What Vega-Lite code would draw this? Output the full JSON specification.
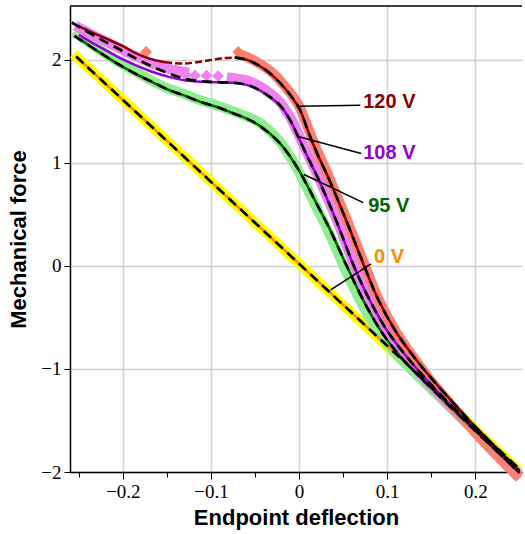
{
  "$schema": "https://vega.github.io/schema/vega-lite/v6.json",
  "width": 525,
  "height": 534,
  "autosize": {"type": "fit", "contains": "padding"},
  "padding": {"left": 7, "top": 5, "right": 0, "bottom": 6},
  "background": "white",
  "config": {"view": {"stroke": null}},
  "datasets": {
    "curves": [
      {"k": "e0", "x": -0.256, "F": 2.055}, {"k": "e0", "x": 0, "F": 0.02}, {"k": "e0", "x": 0.25, "F": -1.99},
      {"k": "e95", "x": -0.256, "F": 2.27}, {"k": "e95", "x": -0.23, "F": 2.12}, {"k": "e95", "x": -0.204, "F": 1.97}, {"k": "e95", "x": -0.185, "F": 1.88}, {"k": "e95", "x": -0.166, "F": 1.79}, {"k": "e95", "x": -0.149, "F": 1.72}, {"k": "e95", "x": -0.13, "F": 1.665}, {"k": "e95", "x": -0.112, "F": 1.605}, {"k": "e95", "x": -0.093, "F": 1.555}, {"k": "e95", "x": -0.075, "F": 1.5}, {"k": "e95", "x": -0.06, "F": 1.45}, {"k": "e95", "x": -0.045, "F": 1.39}, {"k": "e95", "x": -0.0224, "F": 1.21}, {"k": "e95", "x": -0.004, "F": 0.97}, {"k": "e95", "x": 0.008, "F": 0.77}, {"k": "e95", "x": 0.02, "F": 0.56}, {"k": "e95", "x": 0.034, "F": 0.32}, {"k": "e95", "x": 0.052, "F": -0.03}, {"k": "e95", "x": 0.075, "F": -0.43}, {"k": "e95", "x": 0.095, "F": -0.7}, {"k": "e95", "x": 0.115, "F": -0.9}, {"k": "e95", "x": 0.135, "F": -1.07}, {"k": "e95", "x": 0.16, "F": -1.28}, {"k": "e95", "x": 0.2, "F": -1.61}, {"k": "e95", "x": 0.25, "F": -2.02},
      {"k": "e108a", "x": -0.254, "F": 2.33}, {"k": "e108a", "x": -0.23, "F": 2.22}, {"k": "e108a", "x": -0.204, "F": 2.11}, {"k": "e108a", "x": -0.185, "F": 2.03}, {"k": "e108a", "x": -0.166, "F": 1.96}, {"k": "e108a", "x": -0.148, "F": 1.91}, {"k": "e108a", "x": -0.125, "F": 1.87},
      {"k": "e108b", "x": -0.082, "F": 1.83}, {"k": "e108b", "x": -0.07, "F": 1.815}, {"k": "e108b", "x": -0.06, "F": 1.8}, {"k": "e108b", "x": -0.05, "F": 1.765}, {"k": "e108b", "x": -0.037, "F": 1.7}, {"k": "e108b", "x": -0.022, "F": 1.59}, {"k": "e108b", "x": -0.01, "F": 1.44}, {"k": "e108b", "x": -0.002, "F": 1.3}, {"k": "e108b", "x": 0.01, "F": 1.08}, {"k": "e108b", "x": 0.022, "F": 0.86}, {"k": "e108b", "x": 0.043, "F": 0.44}, {"k": "e108b", "x": 0.062, "F": 0.02}, {"k": "e108b", "x": 0.08, "F": -0.32}, {"k": "e108b", "x": 0.1, "F": -0.62}, {"k": "e108b", "x": 0.12, "F": -0.86}, {"k": "e108b", "x": 0.14, "F": -1.07}, {"k": "e108b", "x": 0.165, "F": -1.3}, {"k": "e108b", "x": 0.2, "F": -1.61}, {"k": "e108b", "x": 0.25, "F": -2.03},
      {"k": "e120", "x": -0.072, "F": 2.06}, {"k": "e120", "x": -0.06, "F": 2.03}, {"k": "e120", "x": -0.045, "F": 1.96}, {"k": "e120", "x": -0.03, "F": 1.87}, {"k": "e120", "x": -0.015, "F": 1.73}, {"k": "e120", "x": 0, "F": 1.55}, {"k": "e120", "x": 0.01, "F": 1.34}, {"k": "e120", "x": 0.02, "F": 1.13}, {"k": "e120", "x": 0.034, "F": 0.86}, {"k": "e120", "x": 0.054, "F": 0.45}, {"k": "e120", "x": 0.072, "F": 0.06}, {"k": "e120", "x": 0.09, "F": -0.32}, {"k": "e120", "x": 0.11, "F": -0.64}, {"k": "e120", "x": 0.13, "F": -0.89}, {"k": "e120", "x": 0.15, "F": -1.12}, {"k": "e120", "x": 0.175, "F": -1.37}, {"k": "e120", "x": 0.2, "F": -1.62}, {"k": "e120", "x": 0.25, "F": -2.06},

      {"k": "m0", "x": -0.253, "F": 2.03}, {"k": "m0", "x": 0, "F": 0.02}, {"k": "m0", "x": 0.25, "F": -1.97},
      {"k": "m95", "x": -0.249, "F": 2.2}, {"k": "m95", "x": -0.23, "F": 2.09}, {"k": "m95", "x": -0.204, "F": 1.95}, {"k": "m95", "x": -0.185, "F": 1.86}, {"k": "m95", "x": -0.166, "F": 1.78}, {"k": "m95", "x": -0.149, "F": 1.71}, {"k": "m95", "x": -0.13, "F": 1.65}, {"k": "m95", "x": -0.112, "F": 1.59}, {"k": "m95", "x": -0.093, "F": 1.54}, {"k": "m95", "x": -0.075, "F": 1.48}, {"k": "m95", "x": -0.06, "F": 1.43}, {"k": "m95", "x": -0.045, "F": 1.36}, {"k": "m95", "x": -0.0224, "F": 1.195}, {"k": "m95", "x": -0.004, "F": 0.98}, {"k": "m95", "x": 0.008, "F": 0.8}, {"k": "m95", "x": 0.02, "F": 0.6}, {"k": "m95", "x": 0.034, "F": 0.37}, {"k": "m95", "x": 0.054, "F": 0.0}, {"k": "m95", "x": 0.075, "F": -0.37}, {"k": "m95", "x": 0.095, "F": -0.66}, {"k": "m95", "x": 0.115, "F": -0.88}, {"k": "m95", "x": 0.135, "F": -1.06}, {"k": "m95", "x": 0.16, "F": -1.27}, {"k": "m95", "x": 0.2, "F": -1.6}, {"k": "m95", "x": 0.25, "F": -2.0},
      {"k": "m108", "x": -0.25, "F": 2.24}, {"k": "m108", "x": -0.23, "F": 2.14}, {"k": "m108", "x": -0.204, "F": 2.02}, {"k": "m108", "x": -0.185, "F": 1.945}, {"k": "m108", "x": -0.166, "F": 1.88}, {"k": "m108", "x": -0.149, "F": 1.835}, {"k": "m108", "x": -0.13, "F": 1.8}, {"k": "m108", "x": -0.11, "F": 1.785}, {"k": "m108", "x": -0.09, "F": 1.78}, {"k": "m108", "x": -0.075, "F": 1.775}, {"k": "m108", "x": -0.062, "F": 1.76}, {"k": "m108", "x": -0.05, "F": 1.725}, {"k": "m108", "x": -0.037, "F": 1.66}, {"k": "m108", "x": -0.022, "F": 1.56}, {"k": "m108", "x": -0.01, "F": 1.41}, {"k": "m108", "x": -0.002, "F": 1.27}, {"k": "m108", "x": 0.01, "F": 1.05}, {"k": "m108", "x": 0.022, "F": 0.84}, {"k": "m108", "x": 0.043, "F": 0.42}, {"k": "m108", "x": 0.062, "F": 0.0}, {"k": "m108", "x": 0.08, "F": -0.33}, {"k": "m108", "x": 0.1, "F": -0.63}, {"k": "m108", "x": 0.12, "F": -0.86}, {"k": "m108", "x": 0.14, "F": -1.06}, {"k": "m108", "x": 0.165, "F": -1.29}, {"k": "m108", "x": 0.2, "F": -1.59}, {"k": "m108", "x": 0.25, "F": -2.01},
      {"k": "m120a", "x": -0.252, "F": 2.33}, {"k": "m120a", "x": -0.235, "F": 2.265}, {"k": "m120a", "x": -0.222, "F": 2.215}, {"k": "m120a", "x": -0.2, "F": 2.13}, {"k": "m120a", "x": -0.185, "F": 2.06}, {"k": "m120a", "x": -0.17, "F": 2.01}, {"k": "m120a", "x": -0.152, "F": 1.975},
      {"k": "m120c", "x": -0.073, "F": 2.02}, {"k": "m120c", "x": -0.06, "F": 2.0}, {"k": "m120c", "x": -0.045, "F": 1.94}, {"k": "m120c", "x": -0.03, "F": 1.845}, {"k": "m120c", "x": -0.015, "F": 1.71}, {"k": "m120c", "x": 0, "F": 1.53}, {"k": "m120c", "x": 0.01, "F": 1.31}, {"k": "m120c", "x": 0.02, "F": 1.1}, {"k": "m120c", "x": 0.034, "F": 0.84}, {"k": "m120c", "x": 0.054, "F": 0.43}, {"k": "m120c", "x": 0.072, "F": 0.04}, {"k": "m120c", "x": 0.09, "F": -0.33}, {"k": "m120c", "x": 0.11, "F": -0.64}, {"k": "m120c", "x": 0.13, "F": -0.88}, {"k": "m120c", "x": 0.15, "F": -1.09}, {"k": "m120c", "x": 0.175, "F": -1.33}, {"k": "m120c", "x": 0.2, "F": -1.56}, {"k": "m120c", "x": 0.25, "F": -1.99}
    ],
    "dashedModel": [
      {"k": "m120b", "x": -0.152, "F": 1.975}, {"k": "m120b", "x": -0.13, "F": 1.962}, {"k": "m120b", "x": -0.105, "F": 1.99}, {"k": "m120b", "x": -0.085, "F": 2.015}, {"k": "m120b", "x": -0.073, "F": 2.02}
    ],
    "fits": [
      {"k": "f0", "x": -0.253, "F": 2.03}, {"k": "f0", "x": 0, "F": 0.02}, {"k": "f0", "x": 0.25, "F": -1.97},
      {"k": "f95", "x": -0.255, "F": 2.23}, {"k": "f95", "x": -0.23, "F": 2.09}, {"k": "f95", "x": -0.204, "F": 1.95}, {"k": "f95", "x": -0.185, "F": 1.86}, {"k": "f95", "x": -0.166, "F": 1.78}, {"k": "f95", "x": -0.149, "F": 1.71}, {"k": "f95", "x": -0.13, "F": 1.65}, {"k": "f95", "x": -0.112, "F": 1.59}, {"k": "f95", "x": -0.093, "F": 1.54}, {"k": "f95", "x": -0.075, "F": 1.48}, {"k": "f95", "x": -0.06, "F": 1.43}, {"k": "f95", "x": -0.045, "F": 1.36}, {"k": "f95", "x": -0.0224, "F": 1.195}, {"k": "f95", "x": -0.004, "F": 0.98}, {"k": "f95", "x": 0.008, "F": 0.8}, {"k": "f95", "x": 0.02, "F": 0.6}, {"k": "f95", "x": 0.034, "F": 0.37}, {"k": "f95", "x": 0.054, "F": 0.0}, {"k": "f95", "x": 0.075, "F": -0.37}, {"k": "f95", "x": 0.095, "F": -0.66}, {"k": "f95", "x": 0.115, "F": -0.88}, {"k": "f95", "x": 0.135, "F": -1.06}, {"k": "f95", "x": 0.16, "F": -1.27}, {"k": "f95", "x": 0.2, "F": -1.6}, {"k": "f95", "x": 0.25, "F": -2.0},
      {"k": "f108", "x": -0.258, "F": 2.36}, {"k": "f108", "x": -0.23, "F": 2.22}, {"k": "f108", "x": -0.204, "F": 2.1}, {"k": "f108", "x": -0.185, "F": 2.01}, {"k": "f108", "x": -0.166, "F": 1.93}, {"k": "f108", "x": -0.149, "F": 1.87}, {"k": "f108", "x": -0.13, "F": 1.815}, {"k": "f108", "x": -0.11, "F": 1.79}, {"k": "f108", "x": -0.09, "F": 1.78}, {"k": "f108", "x": -0.075, "F": 1.775}, {"k": "f108", "x": -0.062, "F": 1.76}, {"k": "f108", "x": -0.05, "F": 1.725}, {"k": "f108", "x": -0.037, "F": 1.66}, {"k": "f108", "x": -0.022, "F": 1.56}, {"k": "f108", "x": -0.01, "F": 1.41}, {"k": "f108", "x": -0.002, "F": 1.27}, {"k": "f108", "x": 0.01, "F": 1.05}, {"k": "f108", "x": 0.022, "F": 0.84}, {"k": "f108", "x": 0.043, "F": 0.42}, {"k": "f108", "x": 0.062, "F": 0.0}, {"k": "f108", "x": 0.08, "F": -0.33}, {"k": "f108", "x": 0.1, "F": -0.63}, {"k": "f108", "x": 0.12, "F": -0.86}, {"k": "f108", "x": 0.14, "F": -1.06}, {"k": "f108", "x": 0.165, "F": -1.29}, {"k": "f108", "x": 0.2, "F": -1.59}, {"k": "f108", "x": 0.25, "F": -2.01},
      {"k": "f120", "x": -0.073, "F": 2.02}, {"k": "f120", "x": -0.06, "F": 2.0}, {"k": "f120", "x": -0.045, "F": 1.94}, {"k": "f120", "x": -0.03, "F": 1.845}, {"k": "f120", "x": -0.015, "F": 1.71}, {"k": "f120", "x": 0, "F": 1.53}, {"k": "f120", "x": 0.01, "F": 1.31}, {"k": "f120", "x": 0.02, "F": 1.1}, {"k": "f120", "x": 0.034, "F": 0.84}, {"k": "f120", "x": 0.054, "F": 0.43}, {"k": "f120", "x": 0.072, "F": 0.04}, {"k": "f120", "x": 0.09, "F": -0.33}, {"k": "f120", "x": 0.11, "F": -0.64}, {"k": "f120", "x": 0.13, "F": -0.88}, {"k": "f120", "x": 0.15, "F": -1.09}, {"k": "f120", "x": 0.175, "F": -1.33}, {"k": "f120", "x": 0.2, "F": -1.56}, {"k": "f120", "x": 0.25, "F": -1.99}
    ],
    "outliers": [
      {"k": "e120", "x": -0.1736, "F": 2.074}, {"k": "e120", "x": -0.069, "F": 2.075},
      {"k": "e108a", "x": -0.128, "F": 1.85}, {"k": "e108a", "x": -0.118, "F": 1.845}, {"k": "e108a", "x": -0.105, "F": 1.845}, {"k": "e108a", "x": -0.092, "F": 1.84}
    ],
    "labels": [
      {"t": "120 V", "k": "m120c", "x": 0.0728, "F": 1.587, "x1": 0.0694, "F1": 1.558, "x2": 0.0, "F2": 1.548},
      {"t": "108 V", "k": "m108", "x": 0.0728, "F": 1.09, "x1": 0.0705, "F1": 1.09, "x2": -0.0022, "F2": 1.256},
      {"t": "95 V", "k": "m95", "x": 0.0784, "F": 0.584, "x1": 0.0728, "F1": 0.613, "x2": 0.0056, "F2": 0.886},
      {"t": "0 V", "k": "m0", "x": 0.085, "F": 0.088, "x1": 0.0817, "F1": 0.019, "x2": 0.0358, "F2": -0.234}
    ]
  },
  "layer": [
    {
      "data": {"name": "curves"},
      "transform": [{"filter": "indexof(datum.k, 'e') == 0"}],
      "mark": {"type": "line", "strokeWidth": 10, "strokeCap": "butt", "strokeJoin": "round", "interpolate": "catmull-rom"},
      "encoding": {
        "x": {
          "field": "x", "type": "quantitative",
          "scale": {"domain": [-0.26, 0.253], "nice": false, "zero": false},
          "axis": {
            "orient": "bottom",
            "values": [-0.25, -0.225, -0.2, -0.175, -0.15, -0.125, -0.1, -0.075, -0.05, -0.025, 0, 0.025, 0.05, 0.075, 0.1, 0.125, 0.15, 0.175, 0.2, 0.225, 0.25],
            "format": ".1~f",
            "labelExpr": "abs(datum.value*10 - round(datum.value*10)) < 0.001 ? datum.label : ''",
            "labelOverlap": false, "labelFlush": false,
            "labelFont": "Liberation Serif", "labelFontSize": 19, "labelColor": "black", "labelPadding": 3,
            "tickColor": "black", "tickWidth": 1,
            "tickSize": {"condition": {"test": "abs(datum.value*10 - round(datum.value*10)) < 0.001", "value": 7}, "value": 5},
            "grid": true, "gridColor": "#d0d0d0", "gridWidth": 1.5,
            "gridOpacity": {"condition": {"test": "abs(datum.value*10 - round(datum.value*10)) < 0.001", "value": 1}, "value": 0},
            "domainColor": "black", "domainWidth": 1.5,
            "title": "Endpoint deflection", "titleFont": "Liberation Sans", "titleFontWeight": "bold", "titleFontSize": 22, "titleColor": "black", "titlePadding": 6
          }
        },
        "y": {
          "field": "F", "type": "quantitative",
          "scale": {"domain": [-2, 2.52], "nice": false, "zero": false},
          "axis": {
            "orient": "left",
            "values": [-2, -1.75, -1.5, -1.25, -1, -0.75, -0.5, -0.25, 0, 0.25, 0.5, 0.75, 1, 1.25, 1.5, 1.75, 2, 2.25, 2.5],
            "format": "d",
            "labelExpr": "abs(datum.value - round(datum.value)) < 0.001 ? datum.label : ''",
            "labelOverlap": false, "labelFlush": false,
            "labelFont": "Liberation Serif", "labelFontSize": 19, "labelColor": "black", "labelPadding": 3,
            "tickColor": "black", "tickWidth": 1,
            "tickSize": {"condition": {"test": "abs(datum.value - round(datum.value)) < 0.001", "value": 6}, "value": 4},
            "grid": true, "gridColor": "#d0d0d0", "gridWidth": 1.5,
            "gridOpacity": {"condition": {"test": "abs(datum.value - round(datum.value)) < 0.001", "value": 1}, "value": 0},
            "domainColor": "black", "domainWidth": 1.5,
            "title": "Mechanical force", "titleFont": "Liberation Sans", "titleFontWeight": "bold", "titleFontSize": 22, "titleColor": "black", "titlePadding": 10
          }
        },
        "color": {
          "field": "k", "type": "nominal", "legend": null,
          "scale": {
            "domain": ["e0", "e95", "e108a", "e108b", "e120", "m0", "m95", "m108", "m120a", "m120b", "m120c"],
            "range": ["#FFFF00", "#90EE90", "#EE82EE", "#EE82EE", "#FA8072", "#FF8C00", "#006400", "#9400D3", "#8B0000", "#8B0000", "#8B0000"]
          }
        }
      }
    },
    {
      "data": {"name": "outliers"},
      "mark": {"type": "point", "shape": "diamond", "filled": true, "size": 140, "opacity": 1},
      "encoding": {
        "x": {"field": "x", "type": "quantitative"},
        "y": {"field": "F", "type": "quantitative"},
        "color": {"field": "k", "type": "nominal", "legend": null}
      }
    },
    {
      "data": {"name": "curves"},
      "transform": [{"filter": "indexof(datum.k, 'm') == 0"}],
      "mark": {"type": "line", "strokeWidth": 2.5, "interpolate": "catmull-rom"},
      "encoding": {
        "x": {"field": "x", "type": "quantitative"},
        "y": {"field": "F", "type": "quantitative"},
        "color": {"field": "k", "type": "nominal", "legend": null}
      }
    },
    {
      "data": {"name": "dashedModel"},
      "mark": {"type": "line", "strokeWidth": 2.5, "strokeDash": [7, 3], "interpolate": "catmull-rom"},
      "encoding": {
        "x": {"field": "x", "type": "quantitative"},
        "y": {"field": "F", "type": "quantitative"},
        "color": {"field": "k", "type": "nominal", "legend": null}
      }
    },
    {
      "data": {"name": "fits"},
      "mark": {"type": "line", "strokeWidth": 2.7, "strokeDash": [10, 6], "color": "black", "interpolate": "catmull-rom"},
      "encoding": {
        "x": {"field": "x", "type": "quantitative"},
        "y": {"field": "F", "type": "quantitative"},
        "detail": {"field": "k", "type": "nominal"}
      }
    },
    {
      "data": {"name": "labels"},
      "mark": {"type": "rule", "color": "black", "strokeWidth": 1.5},
      "encoding": {
        "x": {"field": "x1", "type": "quantitative"},
        "y": {"field": "F1", "type": "quantitative"},
        "x2": {"field": "x2"},
        "y2": {"field": "F2"}
      }
    },
    {
      "data": {"name": "labels"},
      "mark": {"type": "text", "align": "left", "baseline": "middle", "font": "Liberation Sans", "fontWeight": "bold", "fontSize": 20},
      "encoding": {
        "x": {"field": "x", "type": "quantitative"},
        "y": {"field": "F", "type": "quantitative"},
        "text": {"field": "t"},
        "color": {"field": "k", "type": "nominal", "legend": null}
      }
    },
    {
      "data": {"values": [{}]},
      "mark": {"type": "rule", "color": "black", "strokeWidth": 1.5},
      "encoding": {
        "y": {"datum": 2.52, "type": "quantitative"}
      }
    }
  ]
}
